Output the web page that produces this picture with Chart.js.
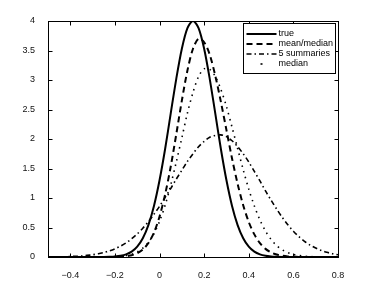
<!DOCTYPE html>
<html>
<head>
<meta charset="utf-8">
<script src="https://cdn.jsdelivr.net/npm/chart.js@4"></script>
<style>
  html, body { margin: 0; padding: 0; background: #fff; }
</style>
</head>
<body>
<canvas id="density" width="374" height="291"></canvas>
<script>
// grid of x positions the curves were read at
const xValues = [
  -0.5, -0.475, -0.45, -0.425, -0.4, -0.375, -0.35, -0.325, -0.3, -0.275,
  -0.25, -0.225, -0.2, -0.175, -0.15, -0.125, -0.1, -0.075, -0.05, -0.025,
  0, 0.025, 0.05, 0.075, 0.1, 0.125, 0.15, 0.175, 0.2, 0.225,
  0.25, 0.275, 0.3, 0.325, 0.35, 0.375, 0.4, 0.425, 0.45, 0.475,
  0.5, 0.525, 0.55, 0.575, 0.6, 0.625, 0.65, 0.675, 0.7, 0.725,
  0.75, 0.775, 0.8
];
const trueValues = [
  0, 0, 0, 0, 0, 0, 0, 0, 0, 0,
  0.001, 0.004, 0.009, 0.02, 0.044, 0.091, 0.176, 0.318, 0.541, 0.865,
  1.30, 1.83, 2.43, 3.02, 3.53, 3.88, 4.00, 3.88, 3.53, 3.02,
  2.43, 1.83, 1.30, 0.865, 0.541, 0.318, 0.176, 0.091, 0.044, 0.02,
  0.009, 0.004, 0.001, 0, 0, 0, 0, 0, 0, 0,
  0, 0, 0
];
const meanMedianValues = [
  0, 0, 0, 0, 0, 0, 0, 0, 0, 0,
  0, 0.001, 0.002, 0.005, 0.013, 0.029, 0.063, 0.125, 0.236, 0.415,
  0.685, 1.06, 1.53, 2.08, 2.65, 3.16, 3.53, 3.70, 3.64, 3.43,
  3.07, 2.63, 2.15, 1.67, 1.24, 0.878, 0.593, 0.383, 0.235, 0.138,
  0.077, 0.041, 0.021, 0.010, 0.005, 0.002, 0.001, 0, 0, 0,
  0, 0, 0
];
const fiveSummaryValues = [
  0.001, 0.002, 0.003, 0.005, 0.008, 0.012, 0.018, 0.027, 0.038, 0.054,
  0.075, 0.103, 0.139, 0.184, 0.240, 0.309, 0.391, 0.488, 0.599, 0.724,
  0.860, 1.01, 1.16, 1.32, 1.47, 1.62, 1.75, 1.87, 1.96, 2.03,
  2.06, 2.07, 2.04, 1.97, 1.87, 1.75, 1.61, 1.45, 1.29, 1.12,
  0.963, 0.812, 0.672, 0.547, 0.437, 0.344, 0.266, 0.202, 0.151, 0.110,
  0.080, 0.056, 0.039
];
const medianValues = [
  0, 0, 0, 0, 0, 0, 0, 0, 0, 0,
  0.001, 0.003, 0.006, 0.012, 0.024, 0.046, 0.085, 0.149, 0.248, 0.397,
  0.604, 0.877, 1.22, 1.61, 2.02, 2.44, 2.79, 3.06, 3.19, 3.18,
  3.06, 2.84, 2.55, 2.20, 1.84, 1.48, 1.15, 0.866, 0.628, 0.44,
  0.297, 0.194, 0.122, 0.074, 0.043, 0.025, 0.013, 0.007, 0.003, 0.002,
  0.001, 0, 0
];
const seriesNames = ['true', 'mean/median', '5 summaries', 'median'];

const xTicks = [-0.4, -0.2, 0, 0.2, 0.4, 0.6, 0.8];
const xTickLabels = ['\u22120.4', '\u22120.2', '0', '0.2', '0.4', '0.6', '0.8'];
const yTicks = [0, 0.5, 1, 1.5, 2, 2.5, 3, 3.5, 4];
const yTickLabels = ['0', '0.5', '1', '1.5', '2', '2.5', '3', '3.5', '4'];

const FONT = "'Liberation Sans', Arial, Helvetica, sans-serif";

function points(values) {
  return xValues.map((x, i) => ({ x: x, y: values[i] }));
}

function makeSet(label, values, width, dash) {
  return {
    label: label,
    data: points(values),
    borderColor: '#000',
    borderWidth: width,
    borderDash: dash,
    pointRadius: 0,
    showLine: true,
    fill: false,
    tension: 0.3,
  };
}

// matlab style: closed box, ticks pointing inward on all four sides, legend inside
const matlabAxes = {
  id: 'matlabAxes',
  afterDatasetsDraw(chart) {
    const ctx = chart.ctx;
    const a = chart.chartArea;
    const sx = chart.scales.x, sy = chart.scales.y;
    const L = Math.round(a.left) + 0.5, R = Math.round(a.right) + 0.5;
    const T = Math.round(a.top) + 0.5, B = Math.round(a.bottom) + 0.5;
    ctx.save();
    ctx.strokeStyle = '#000';
    ctx.lineWidth = 1;
    ctx.setLineDash([]);
    ctx.strokeRect(L, T, R - L, B - T);
    const len = 4;
    ctx.beginPath();
    sx.ticks.forEach(t => {
      const px = Math.round(sx.getPixelForValue(t.value)) + 0.5;
      ctx.moveTo(px, B); ctx.lineTo(px, B - len);
      ctx.moveTo(px, T); ctx.lineTo(px, T + len);
    });
    sy.ticks.forEach(t => {
      const py = Math.round(sy.getPixelForValue(t.value)) + 0.5;
      ctx.moveTo(L, py); ctx.lineTo(L + len, py);
      ctx.moveTo(R, py); ctx.lineTo(R - len, py);
    });
    ctx.stroke();

    // legend box
    const bx = 243.5, by = 23.5, bw = 92, bh = 50;
    ctx.fillStyle = '#fff';
    ctx.fillRect(bx, by, bw, bh);
    ctx.strokeRect(bx, by, bw, bh);
    ctx.font = '9px ' + FONT;
    ctx.textBaseline = 'middle';
    ctx.textAlign = 'left';
    chart.data.datasets.forEach((ds, i) => {
      const y = by + 10.5 + i * 10;
      ctx.strokeStyle = '#000';
      ctx.lineWidth = ds.borderWidth;
      if (i === 3) {
        // dotted sample shows as a single dot in the reference
        ctx.setLineDash([2, 40]);
        ctx.lineDashOffset = -14;
      } else {
        ctx.setLineDash(ds.borderDash || []);
        ctx.lineDashOffset = 0;
      }
      ctx.beginPath();
      ctx.moveTo(bx + 3, y);
      ctx.lineTo(bx + 33, y);
      ctx.stroke();
      ctx.setLineDash([]);
      ctx.fillStyle = '#000';
      ctx.fillText(ds.label, bx + 35, y);
    });
    ctx.restore();
  }
};

const chart = new Chart(document.getElementById('density').getContext('2d'), {
  type: 'scatter',
  data: {
    datasets: [
      makeSet(seriesNames[0], trueValues, 2, []),
      makeSet(seriesNames[1], meanMedianValues, 2, [6, 4]),
      makeSet(seriesNames[2], fiveSummaryValues, 1.6, [5, 3, 1.5, 3]),
      makeSet(seriesNames[3], medianValues, 1.6, [1.5, 4.5]),
    ]
  },
  options: {
    responsive: false,
    animation: false,
    devicePixelRatio: 1,
    layout: { padding: { left: 0, right: 36, top: 21, bottom: 0 } },
    plugins: {
      legend: { display: false },
      tooltip: { enabled: false },
      title: { display: false },
    },
    scales: {
      x: {
        type: 'linear',
        min: -0.5,
        max: 0.8,
        afterBuildTicks: s => { s.ticks = xTicks.map(v => ({ value: v })); },
        afterFit: s => { s.height = 34; },
        grid: { display: false },
        border: { display: false },
        ticks: {
          autoSkip: false,
          maxRotation: 0,
          padding: 5,
          color: '#111',
          font: { family: FONT, size: 9 },
          callback: v => xTickLabels[xTicks.indexOf(v)],
        },
      },
      y: {
        type: 'linear',
        min: 0,
        max: 4,
        afterBuildTicks: s => { s.ticks = yTicks.map(v => ({ value: v })); },
        afterFit: s => { s.width = 48; },
        grid: { display: false },
        border: { display: false },
        ticks: {
          padding: 5,
          color: '#111',
          font: { family: FONT, size: 9 },
          callback: v => yTickLabels[yTicks.indexOf(v)],
        },
      },
    },
  },
  plugins: [matlabAxes],
});
</script>
</body>
</html>
